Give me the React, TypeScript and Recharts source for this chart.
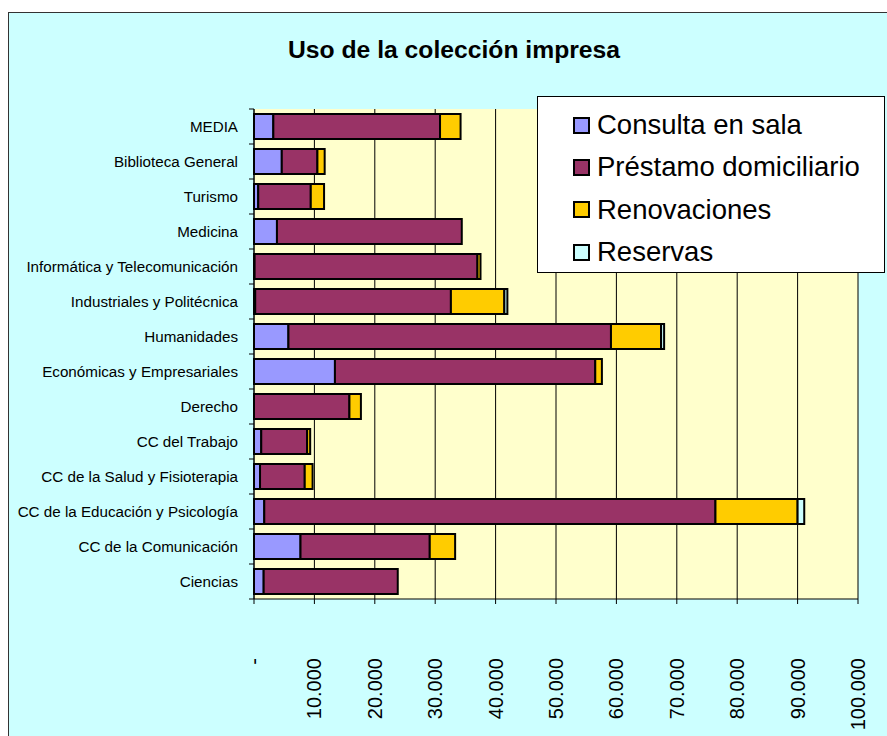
import React from "react"
import { Bar, BarChart, XAxis, YAxis, CartesianGrid, Legend } from "recharts"

const categories = [
  "MEDIA",
  "Biblioteca General",
  "Turismo",
  "Medicina",
  "Informática y Telecomunicación",
  "Industriales y Politécnica",
  "Humanidades",
  "Económicas y Empresariales",
  "Derecho",
  "CC del Trabajo",
  "CC de la Salud y Fisioterapia",
  "CC de la Educación y Psicología",
  "CC de la Comunicación",
  "Ciencias",
]

const consulta = [3200, 4600, 700, 3800, 100, 200, 5700, 13400, 0, 1200, 1000, 1700, 7700, 1600]
const prestamo = [27600, 5900, 8700, 30600, 36900, 32400, 53400, 43100, 15800, 7600, 7400, 74700, 21400, 22200]
const renovaciones = [3400, 1200, 2200, 0, 500, 8850, 8300, 1100, 1900, 500, 1300, 13600, 4200, 0]
const reservas = [0, 0, 0, 0, 0, 500, 500, 0, 0, 0, 0, 1100, 0, 0]

const xTicks = [0, 10000, 20000, 30000, 40000, 50000, 60000, 70000, 80000, 90000, 100000]

const series = [
  { key: "consulta", name: "Consulta en sala", color: "#9999FF" },
  { key: "prestamo", name: "Préstamo domiciliario", color: "#993366" },
  { key: "renovaciones", name: "Renovaciones", color: "#FFCC00" },
  { key: "reservas", name: "Reservas", color: "#CCFFFF" },
]

const data = categories.map((name, i) => ({
  name,
  consulta: consulta[i],
  prestamo: prestamo[i],
  renovaciones: renovaciones[i],
  reservas: reservas[i],
}))

const FONT = "Arial, 'Liberation Sans', sans-serif"
const HALF_BAND = 17.5

function formatThousands(v: number) {
  if (v === 0) return "-"
  return String(v).replace(/\B(?=(\d{3})+(?!\d))/g, ".")
}

function CategoryTick(props: any) {
  const { x, y, payload, index } = props
  const last = index === categories.length - 1
  return (
    <g>
      <line x1={x - 5} x2={x} y1={y - HALF_BAND} y2={y - HALF_BAND} stroke="#000" />
      {last && <line x1={x - 5} x2={x} y1={y + HALF_BAND} y2={y + HALF_BAND} stroke="#000" />}
      <text x={x - 16} y={y} dy="0.35em" textAnchor="end" fontSize={15.2} fontFamily={FONT} fill="#000">
        {payload.value}
      </text>
    </g>
  )
}

function ValueTick(props: any) {
  const { x, y, payload } = props
  const ty = y + 52
  return (
    <text
      x={x}
      y={ty}
      dy="0.35em"
      transform={`rotate(-90, ${x}, ${ty})`}
      textAnchor="end"
      fontSize={20}
      fontFamily={FONT}
      fill="#000"
    >
      {formatThousands(payload.value)}
    </text>
  )
}

function LegendBox() {
  return (
    <div
      style={{
        width: 348,
        height: 177,
        boxSizing: "border-box",
        background: "#fff",
        border: "1px solid #000",
        paddingTop: 7,
        fontFamily: FONT,
        fontSize: 27.5,
        color: "#000",
        textAlign: "left",
      }}
    >
      {series.map((s) => (
        <div key={s.key} style={{ display: "flex", alignItems: "center", height: 42.3, paddingLeft: 35 }}>
          <span
            style={{
              display: "inline-block",
              width: 17,
              height: 17,
              background: s.color,
              border: "2px solid #000",
              boxSizing: "border-box",
              marginRight: 7,
              flexShrink: 0,
            }}
          />
          <span style={{ whiteSpace: "nowrap" }}>{s.name}</span>
        </div>
      ))}
    </div>
  )
}

export default function App() {
  return (
    <div
      style={{
        position: "fixed",
        left: 8,
        top: 12,
        width: 879,
        height: 724,
        background: "#CCFFFF",
        boxShadow: "inset 1px 1px 0 #333",
      }}
    >
      <div
        style={{
          position: "absolute",
          left: 0,
          top: 26,
          width: 892,
          textAlign: "center",
          fontFamily: FONT,
          fontWeight: "bold",
          fontSize: 24.7,
          lineHeight: "24px",
        }}
      >
        Uso de la colección impresa
      </div>
      <BarChart
        width={879}
        height={724}
        data={data}
        layout="vertical"
        margin={{ top: 97, right: 29, bottom: 0, left: 0 }}
        barSize={25}
      >
        <CartesianGrid horizontal={false} stroke="#000" fill="#FFFFCC" />
        <XAxis
          type="number"
          domain={[0, 100000]}
          ticks={xTicks}
          interval={0}
          height={137}
          axisLine={{ stroke: "#000" }}
          tickLine={{ stroke: "#000" }}
          tickSize={5}
          tick={<ValueTick />}
        />
        <XAxis
          xAxisId="top"
          orientation="top"
          type="number"
          domain={[0, 100000]}
          height={0}
          tick={false}
          tickLine={false}
          axisLine={{ stroke: "#808080" }}
        />
        <YAxis
          type="category"
          dataKey="name"
          width={246}
          interval={0}
          axisLine={{ stroke: "#000" }}
          tickLine={false}
          tickSize={0}
          tickMargin={0}
          tick={<CategoryTick />}
        />
        <YAxis
          yAxisId="right"
          orientation="right"
          type="category"
          dataKey="name"
          width={0}
          tick={false}
          tickLine={false}
          axisLine={{ stroke: "#808080" }}
        />
        <Legend
          layout="horizontal"
          verticalAlign="middle"
          align="center"
          content={<LegendBox />}
          wrapperStyle={{ position: "absolute", left: 529, top: 84, width: 348, height: 177 }}
        />
        {series.map((s) => (
          <Bar
            key={s.key}
            dataKey={s.key}
            name={s.name}
            stackId="a"
            fill={s.color}
            stroke="#000"
            strokeWidth={2}
            isAnimationActive={false}
          />
        ))}
      </BarChart>
    </div>
  )
}
